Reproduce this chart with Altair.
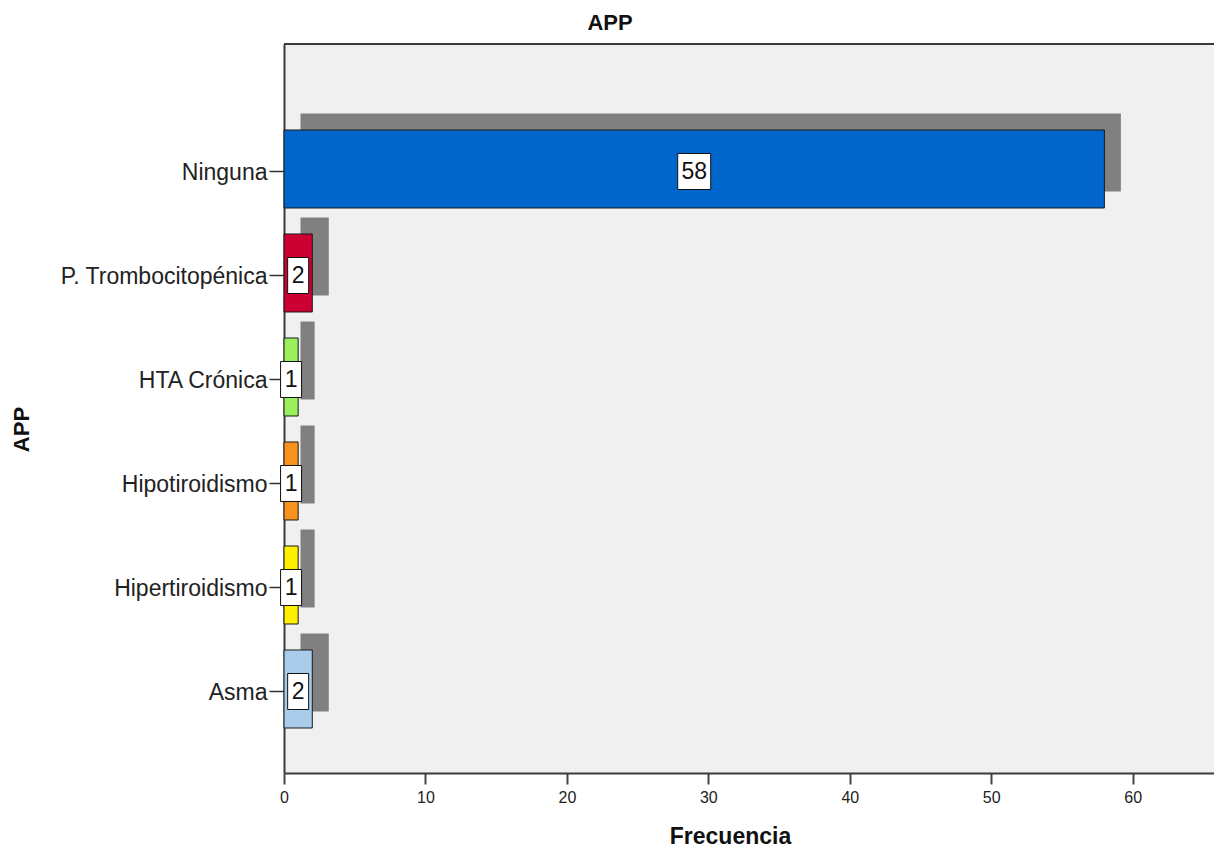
import altair as alt
import pandas as pd

# Antecedentes patológicos personales (APP) – frecuencias
categories = ["Ninguna", "P. Trombocitopénica", "HTA Crónica",
              "Hipotiroidismo", "Hipertiroidismo", "Asma"]
counts = [58, 2, 1, 1, 1, 2]
colors = ["#0066CC", "#CC0033", "#99F05C", "#F7921E", "#FFF000", "#A9CCEB"]
x_ticks = [0, 10, 20, 30, 40, 50, 60]
chart_title = "APP"

FONT = "Liberation Sans"
PW, PH = 930, 729

df = pd.DataFrame({
    "cat": categories,
    "n": counts,
    "pos": list(range(len(categories))),
    "color": colors,
})

xs = alt.Scale(domain=[0, 65.75], nice=False, zero=True)
ys = alt.Scale(domain=[-1.2019, 5.8077], nice=False, zero=False, reverse=True)

label_expr = "[" + ",".join("'" + c + "'" for c in categories) + "][datum.value]"

x_axis = alt.Axis(
    title="Frecuencia", values=x_ticks, grid=False, labelFlush=False,
    labelFont=FONT, labelFontSize=16, labelColor="#222222", labelPadding=5,
    tickSize=11, tickWidth=2, tickColor="#444444",
    domainColor="#3a3a3a", domainWidth=2,
    titleFont=FONT, titleFontSize=23, titleFontWeight="bold", titleColor="#111111",
    titleX=446, titleY=70, titleBaseline="alphabetic", titleAlign="center",
)
y_axis = alt.Axis(
    title="APP", values=list(range(len(categories))), labelExpr=label_expr, grid=False,
    labelFont=FONT, labelFontSize=23, labelColor="#222222", labelPadding=2, labelLimit=400,
    labelOffset=2, tickOffset=2,
    tickSize=15, tickWidth=1.5, tickColor="#333333",
    domainColor="#3a3a3a", domainWidth=2,
    titleFont=FONT, titleFontSize=22, titleFontWeight="bold", titleColor="#111111",
    titleAngle=270, titleX=-256, titleY=385, titleBaseline="alphabetic", titleAlign="center",
)

base = alt.Chart(df).transform_calculate(
    zero="0", y0="datum.pos - 0.375", y1="datum.pos + 0.375", mid="datum.n / 2",
    nd="length(toString(datum.n))",
)

# gray drop shadow behind each bar
shadow = base.mark_rect(color="#808080", xOffset=16.5, x2Offset=16.5,
                        yOffset=-16.5, y2Offset=-16.5).encode(
    x=alt.X("zero:Q", scale=xs, axis=x_axis),
    x2="n:Q",
    y=alt.Y("y0:Q", scale=ys, axis=y_axis),
    y2="y1:Q",
)

bars = base.mark_rect(stroke="#1a1a1a", strokeWidth=1).encode(
    x=alt.X("zero:Q", scale=xs, axis=x_axis),
    x2="n:Q",
    y=alt.Y("y0:Q", scale=ys, axis=y_axis),
    y2="y1:Q",
    color=alt.Color("color:N", scale=None),
)

def label_box(cond, half_w):
    return base.transform_filter(cond).mark_rect(
        fill="white", stroke="#111111", strokeWidth=1,
        xOffset=-half_w, x2Offset=half_w, yOffset=-15.5, y2Offset=20.5,
    ).encode(
        x=alt.X("mid:Q", scale=xs, axis=x_axis),
        x2="mid:Q",
        y=alt.Y("pos:Q", scale=ys, axis=y_axis),
        y2="pos:Q",
    )

box1 = label_box("datum.nd == 1", 10.5)
box2 = label_box("datum.nd >= 2", 16.5)

labels = base.mark_text(font=FONT, fontSize=23, color="#111111",
                        align="center", baseline="middle", dy=3).encode(
    x=alt.X("mid:Q", scale=xs, axis=x_axis),
    y=alt.Y("pos:Q", scale=ys, axis=y_axis),
    text="n:Q",
)

top_border = alt.Chart(df).mark_rule(color="#3a3a3a", strokeWidth=2).encode(
    x=alt.value(0), x2=alt.value(PW), y=alt.value(0)
)

# chart heading, centred over the whole figure
heading = alt.Chart(pd.DataFrame({"t": [chart_title]})).mark_text(
    font=FONT, fontSize=22, fontWeight="bold", color="#111111",
    align="center", baseline="alphabetic",
).encode(x=alt.value(326), y=alt.value(-14), text="t:N")

chart = alt.layer(shadow, bars, box1, box2, labels, top_border, heading).properties(
    width=PW, height=PH,
    autosize=alt.AutoSizeParams(type="none"),
    padding={"left": 284, "top": 44, "right": 0, "bottom": 75},
    background="white",
).configure_view(fill="#F0F0F0", strokeWidth=0)

chart.save("out.html", embed_options={"renderer": "svg", "actions": False})
